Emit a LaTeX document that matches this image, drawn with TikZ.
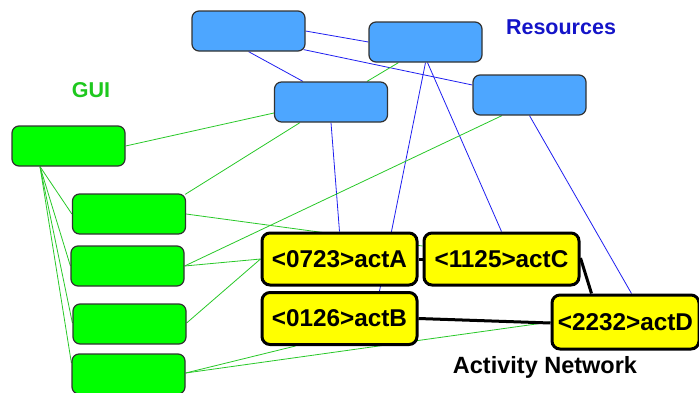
\documentclass[tikz,border=0pt]{standalone}
\usepackage{fontspec}
\setmainfont{Liberation Sans}
\pgfdeclarelayer{background}
\pgfsetlayers{background,main}
\definecolor{resblue}{RGB}{77,166,255}
\definecolor{guigreen}{RGB}{0,255,0}
\definecolor{actyellow}{RGB}{255,255,0}
\definecolor{linkblue}{RGB}{30,30,240}
\definecolor{linkgreen}{RGB}{40,200,40}
\definecolor{titleblue}{RGB}{20,20,200}
\definecolor{titlegreen}{RGB}{30,200,30}
\definecolor{boxedge}{RGB}{50,50,50}
\tikzset{
  resbox/.style={draw=boxedge, line width=1.2pt, fill=resblue, rounded corners=7pt,
    minimum width=113pt, minimum height=40pt, inner sep=0pt},
  guibox/.style={draw=boxedge, line width=1.2pt, fill=guigreen, rounded corners=7pt,
    minimum width=113pt, minimum height=40pt, inner sep=0pt},
  actbox/.style={draw=black, line width=3pt, fill=actyellow, rounded corners=8pt,
    minimum width=155pt, minimum height=52pt, inner sep=0pt,
    font=\fontsize{24.3}{27}\selectfont\bfseries},
  bluelink/.style={draw=linkblue, line width=0.8pt},
  greenlink/.style={draw=linkgreen, line width=0.8pt},
  actlink/.style={draw=black, line width=3pt},
  heading/.style={font=\fontsize{21.5}{24}\selectfont\bfseries, inner sep=0pt}
}
\begin{document}
\begin{tikzpicture}[x=1pt, y=-1pt]
  \useasboundingbox (0,0) rectangle (699,392);

  % resources
  \node[resbox] (b1) at (248.5,31) {};
  \node[resbox] (b2) at (425.5,42) {};
  \node[resbox] (b3) at (331,102) {};
  \node[resbox] (b4) at (529.5,95) {};

  % GUI elements
  \node[guibox] (g0) at (68.5,146) {};
  \node[guibox] (g1) at (129,214) {};
  \node[guibox] (g2) at (127.5,266) {};
  \node[guibox] (g3) at (129.5,324) {};
  \node[guibox] (g4) at (128.5,374) {};

  % activities
  \node[actbox] (a) at (339.5,259) {<0723>actA};
  \node[actbox] (c) at (501.5,259) {<1125>actC};
  \node[actbox] (bb) at (339.5,318.5) {<0126>actB};
  \node[actbox, minimum width=147pt, minimum height=54pt] (d) at (625.5,322) {<2232>actD};

  % headings
  \node[heading, text=titleblue] (tres) at (561,27) {Resources};
  \node[heading, text=titlegreen] (tgui) at (91,90) {GUI};
  \node[heading, font=\fontsize{23.5}{26}\selectfont\bfseries] (tact) at (545,367) {Activity Network};

  \begin{pgfonlayer}{background}
    % resource links
    \draw[bluelink] (b1.east) -- (b2.west);
    \draw[bluelink] ([xshift=-2pt,yshift=2pt]b1.south east) -- ([yshift=10pt]b4.west);
    \draw[bluelink] (b1.south) -- ([xshift=-28pt]b3.north);
    \draw[bluelink] (b2.south) -- ([xshift=40pt]bb.north);
    \draw[bluelink] ([xshift=2pt]b2.south) -- (c.north);
    \draw[bluelink] (b3.south) -- (a.north);
    \draw[bluelink] (b4.south) -- ([xshift=6pt]d.north);

    % GUI links
    \draw[greenlink] (g0.east) -- ([yshift=-11pt]b3.west);
    \draw[greenlink] ([xshift=-1pt,yshift=-1pt]g1.north east) -- ([xshift=-31pt]b3.south);
    \draw[greenlink] ([xshift=-27pt]b2.south) -- ([xshift=36pt]b3.north);
    \draw[greenlink] ([xshift=-27.5pt]b4.south) -- (g2.east);
    \draw[greenlink] (g1.east) -- ([yshift=13pt]c.west);
    \draw[greenlink] (g2.east) -- (a.west);
    \draw[greenlink] ([yshift=1pt]g3.east) -- (a.west);
    \draw[greenlink] ([yshift=1pt]g4.east) -- ([xshift=-44pt]bb.south);
    \draw[greenlink] ([yshift=1pt]g4.east) -- (d.west);
    \coordinate (fan) at ([xshift=-28.5pt]g0.south);
    \draw[greenlink] (fan) -- (g1.west);
    \draw[greenlink] (fan) -- (g2.west);
    \draw[greenlink] (fan) -- ([yshift=1pt]g3.west);
    \draw[greenlink] (fan) -- ([yshift=11pt]g4.west);

    % activity links
    \draw[actlink] (a.east) -- (c.west);
    \draw[actlink] ([yshift=1pt]c.east) -- ([xshift=-34pt]d.north);
    \draw[actlink] (bb.east) -- ([yshift=-1pt]d.west);
  \end{pgfonlayer}
\end{tikzpicture}
\end{document}
